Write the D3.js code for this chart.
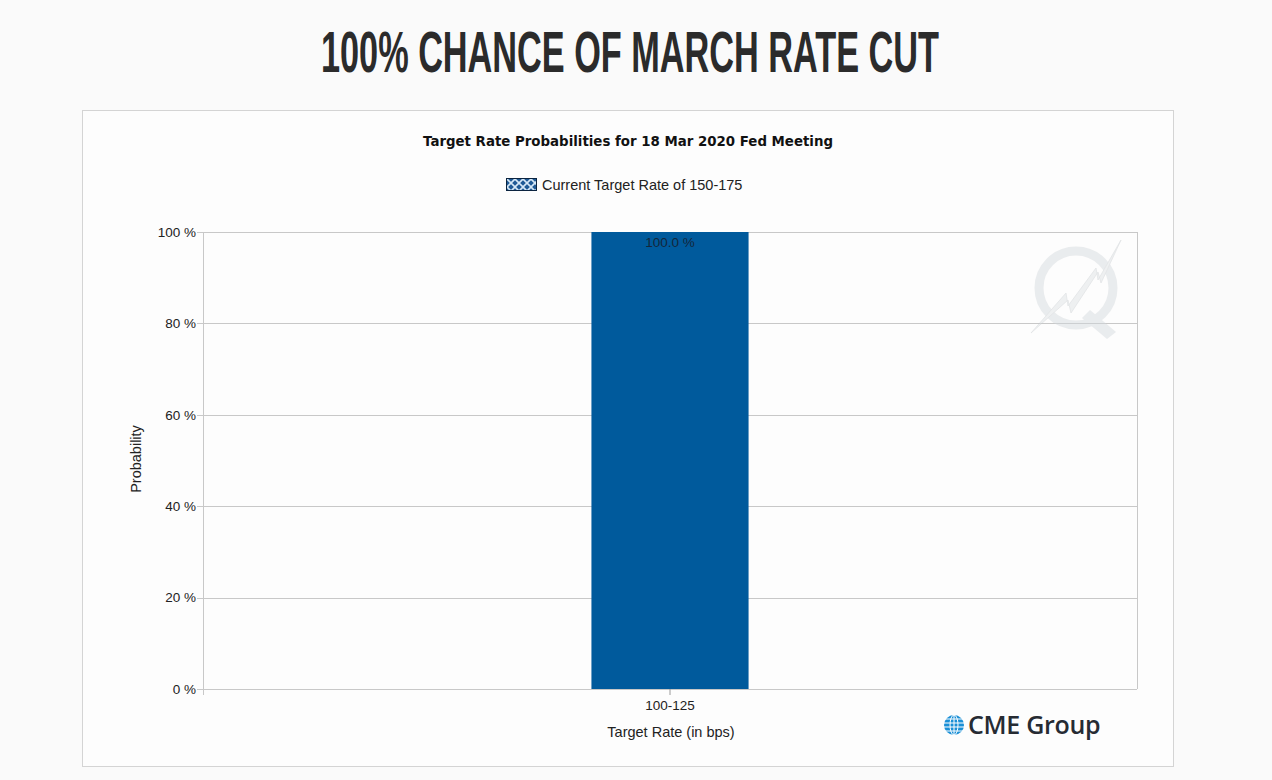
<!DOCTYPE html>
<html><head><meta charset="utf-8">
<script src="https://cdn.jsdelivr.net/npm/d3@7"></script>
<style>html,body{margin:0;padding:0;background:#fafafa;}svg{display:block}</style>
</head><body>
<svg id="c" width="1272" height="780"></svg>
<script>
const categories = ["100-125"];
const seriesName = "Current Target Rate of 150-175";
const values = [100.0];
const yTicks = [0, 20, 40, 60, 80, 100];

const svg = d3.select("#c");
svg.append("rect").attr("width",1272).attr("height",780).attr("fill","#fafafa");

// headline (condensed by horizontal scaling)
const head = svg.append("text").attr("x",0).attr("y",0)
  .attr("font-family","Liberation Sans Narrow, Liberation Sans, Arial, sans-serif").attr("font-weight","bold")
  .attr("font-size",58).attr("fill","#2b2b2b")
  .text("100% CHANCE OF MARCH RATE CUT");
const hw = head.node().getComputedTextLength();
head.attr("transform",`translate(321,72) scale(${618/hw},1)`);

// chart box
svg.append("rect").attr("x",82.5).attr("y",110.5).attr("width",1091).attr("height",656)
  .attr("fill","#fdfdfd").attr("stroke","#d4d4d4");

const font = "Liberation Sans, Arial, sans-serif";
svg.append("text").attr("x",628).attr("y",146).attr("text-anchor","middle")
  .attr("font-family","DejaVu Sans, sans-serif").attr("font-weight","bold").attr("font-size",14).attr("fill","#111")
  .attr("textLength",410).attr("lengthAdjust","spacingAndGlyphs")
  .text("Target Rate Probabilities for 18 Mar 2020 Fed Meeting");

// legend
const defs = svg.append("defs");
const pat = defs.append("pattern").attr("id","hatch").attr("patternUnits","userSpaceOnUse")
  .attr("width",8).attr("height",8).attr("x",507).attr("y",179);
pat.append("rect").attr("width",8).attr("height",8).attr("fill","#1f5a96");
pat.append("path").attr("d","M0,0L8,8M8,0L0,8").attr("stroke","#d6e8f7").attr("stroke-width",1.6);
svg.append("rect").attr("x",506.5).attr("y",178.5).attr("width",30).attr("height",12)
  .attr("fill","url(#hatch)").attr("stroke","#0b2440");
svg.append("text").attr("x",542).attr("y",189.5).attr("font-family",font).attr("font-size",14.5)
  .attr("fill","#222").text(seriesName);

const m = {l:203, r:1137, t:232, b:689};
const x = d3.scaleBand().domain(categories).range([m.l,m.r]).paddingInner(0.712).paddingOuter(0.712);
const y = d3.scaleLinear().domain([0,100]).range([m.b,m.t]);

// gridlines
svg.append("g").selectAll("line").data(yTicks).join("line")
  .attr("x1",m.l-6).attr("x2",m.r).attr("y1",d=>Math.round(y(d))+0.5).attr("y2",d=>Math.round(y(d))+0.5)
  .attr("stroke","#c8c8c8");
svg.append("line").attr("x1",m.l+0.5).attr("x2",m.l+0.5).attr("y1",m.t).attr("y2",m.b+6).attr("stroke","#c8c8c8");
svg.append("line").attr("x1",m.r+0.5).attr("x2",m.r+0.5).attr("y1",m.t).attr("y2",m.b).attr("stroke","#c8c8c8");

// y axis labels
const ya = svg.append("g").attr("transform",`translate(${m.l-6},0)`)
  .call(d3.axisLeft(y).tickValues(yTicks).tickSize(0).tickPadding(1).tickFormat(d=>d+" %"));
ya.select(".domain").remove();
ya.selectAll("text").attr("font-family",font).attr("font-size",13.5).attr("fill","#222");

// watermark
const wm = svg.append("g").attr("transform","translate(1076,288)").attr("opacity",0.45);
wm.append("circle").attr("r",37).attr("fill","none").attr("stroke","#d3d8dc").attr("stroke-width",9);
wm.append("path").attr("d","M14,22 L40,44 L31,51 L6,30 Z").attr("fill","#d3d8dc");
wm.append("path").attr("d","M-45,45 L-10,5 L-8,18 L20,-20 L22,-8 L45,-48 L25,-5 L22,-16 L-5,25 L-8,12 Z")
  .attr("fill","#dde1e4").attr("stroke","#c3c8cc").attr("stroke-width",0.8);

// bars
svg.append("g").selectAll("rect").data(values).join("rect")
  .attr("x",(d,i)=>x(categories[i])).attr("width",x.bandwidth())
  .attr("y",d=>y(d)).attr("height",d=>y(0)-y(d)).attr("fill","#005a9c");
svg.append("g").selectAll("text").data(values).join("text")
  .attr("x",(d,i)=>x(categories[i])+x.bandwidth()/2).attr("y",d=>y(d)+15)
  .attr("text-anchor","middle").attr("font-family",font).attr("font-size",13.5).attr("fill","#14263a")
  .text(d=>d.toFixed(1)+" %");

// x axis
const xa = svg.append("g").attr("transform",`translate(0,${m.b})`)
  .call(d3.axisBottom(x).tickSize(6).tickPadding(5));
xa.select(".domain").remove();
xa.selectAll("line").attr("stroke","#9a9a9a");
xa.selectAll("text").attr("font-family",font).attr("font-size",13.5).attr("fill","#222");

svg.append("text").attr("x",671).attr("y",737).attr("text-anchor","middle").attr("font-family",font)
  .attr("font-size",14.5).attr("fill","#222").text("Target Rate (in bps)");
svg.append("text").attr("transform","translate(141,459) rotate(-90)").attr("text-anchor","middle")
  .attr("font-family",font).attr("font-size",14.5).attr("fill","#222").text("Probability");

// CME logo
const g = svg.append("g").attr("transform","translate(954,725)");
g.append("circle").attr("r",10).attr("fill","#1a8fd6");
[-6,-2,2,6].forEach(v=>{
  g.append("line").attr("x1",-10).attr("x2",10).attr("y1",v).attr("y2",v).attr("stroke","#fff").attr("stroke-width",1);
});
g.append("ellipse").attr("rx",4).attr("ry",10).attr("fill","none").attr("stroke","#fff").attr("stroke-width",1);
g.append("line").attr("x1",0).attr("x2",0).attr("y1",-10).attr("y2",10).attr("stroke","#fff").attr("stroke-width",1);
svg.append("text").attr("x",968).attr("y",734).attr("font-family","Open Sans, Liberation Sans, sans-serif")
  .attr("font-weight","600").attr("font-size",25).attr("fill","#262b33").attr("letter-spacing","-0.3").text("CME Group");
</script>
</body></html>
